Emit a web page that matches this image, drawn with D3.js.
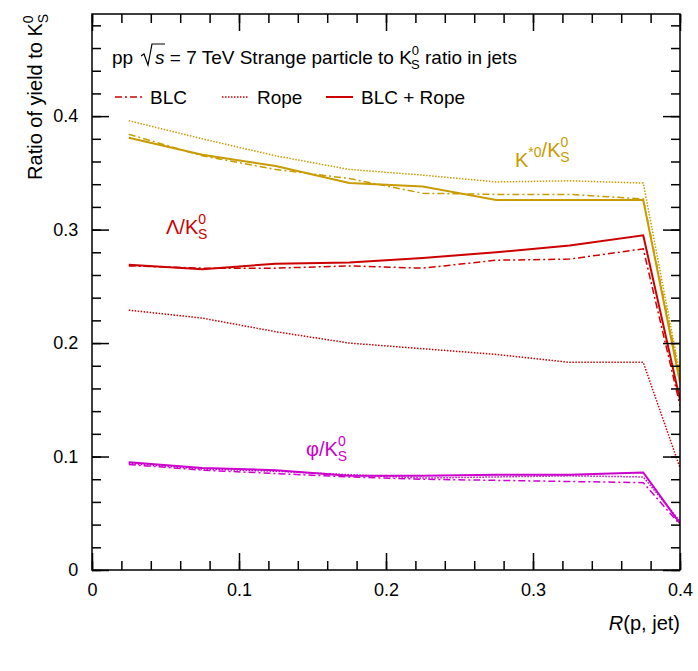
<!DOCTYPE html>
<html><head><meta charset="utf-8">
<script src="https://cdn.jsdelivr.net/npm/d3@7"></script>
<style>body{margin:0;background:#fff}text{font-family:"Liberation Sans",Arial,sans-serif}</style>
</head><body><svg id="c" width="698" height="671"></svg>
<script>
const xs = [0.025, 0.075, 0.125, 0.175, 0.225, 0.275, 0.325, 0.375, 0.4];
const kstarFull = [0.381, 0.366, 0.356, 0.341, 0.338, 0.326, 0.326, 0.326, 0.165];
const kstarBLC  = [0.384, 0.365, 0.353, 0.345, 0.332, 0.331, 0.331, 0.327, 0.170];
const kstarRope = [0.396, 0.380, 0.365, 0.353, 0.348, 0.342, 0.343, 0.341, 0.172];
const lamFull = [0.269, 0.265, 0.270, 0.271, 0.275, 0.280, 0.286, 0.295, 0.150];
const lamBLC  = [0.268, 0.266, 0.266, 0.268, 0.266, 0.273, 0.274, 0.283, 0.145];
const lamRope = [0.229, 0.222, 0.210, 0.200, 0.195, 0.190, 0.183, 0.183, 0.090];
const phiFull = [0.095, 0.090, 0.088, 0.083, 0.083, 0.084, 0.084, 0.086, 0.041];
const phiBLC  = [0.093, 0.088, 0.085, 0.082, 0.080, 0.079, 0.078, 0.077, 0.040];
const phiRope = [0.094, 0.089, 0.087, 0.084, 0.081, 0.082, 0.083, 0.082, 0.043];

const gold = "#c89c00", red = "#cc0000", mag = "#cc00cc";
const dash = { full: null, blc: "7,3,2,3", rope: "1.5,1.5" };
const series = [
  [kstarFull, gold, "full"], [kstarBLC, gold, "blc"], [kstarRope, gold, "rope"],
  [lamFull, red, "full"], [lamBLC, red, "blc"], [lamRope, red, "rope"],
  [phiFull, mag, "full"], [phiBLC, mag, "blc"], [phiRope, mag, "rope"]
];

const svg = d3.select("#c");
const L = 92, R = 680, T = 14, B = 570;
const x = d3.scaleLinear().domain([0, 0.4]).range([L, R]);
const y = d3.scaleLinear().domain([0, 0.49]).range([B, T]);

svg.append("defs").append("clipPath").attr("id", "clip")
  .append("rect").attr("x", L).attr("y", T).attr("width", R - L).attr("height", B - T);

const line = d3.line().x((d, i) => x(xs[i])).y(d => y(d));
series.forEach(([vals, col, st]) => {
  svg.append("path").datum(vals).attr("clip-path", "url(#clip)")
    .attr("fill", "none").attr("stroke", col)
    .attr("stroke-width", st === "full" ? 2 : 1.5)
    .attr("stroke-dasharray", dash[st]).attr("d", line);
});

// frame
svg.append("rect").attr("x", L).attr("y", T).attr("width", R - L).attr("height", B - T)
  .attr("fill", "none").attr("stroke", "#000").attr("stroke-width", 1.5);

// ticks (ROOT-style, inside)
const xAx = d3.axisBottom(x).tickValues(d3.range(0, 0.401, 0.1)).tickSize(-17)
  .tickFormat(d => d === 0 ? "0" : d3.format(".1f")(d));
const gx = svg.append("g").attr("transform", `translate(0,${B})`).call(xAx);
gx.selectAll(".tick text").attr("dy", "1.3em");
svg.append("g").attr("transform", `translate(0,${B})`)
  .call(d3.axisBottom(x).tickValues(d3.range(0, 0.401, 0.02)).tickSize(-9).tickFormat(""));
svg.append("g").attr("transform", `translate(0,${T})`)
  .call(d3.axisTop(x).tickValues(d3.range(0, 0.401, 0.02)).tickSize(-9).tickFormat(""));
svg.append("g").attr("transform", `translate(0,${T})`)
  .call(d3.axisTop(x).tickValues(d3.range(0, 0.401, 0.1)).tickSize(-17).tickFormat(""));

const gy = svg.append("g").attr("transform", `translate(${L},0)`)
  .call(d3.axisLeft(y).tickValues([0, 0.1, 0.2, 0.3, 0.4]).tickSize(-17)
    .tickFormat(d => d === 0 ? "0" : d3.format(".1f")(d)));
gy.selectAll(".tick text").attr("dx", "-0.6em");
svg.append("g").attr("transform", `translate(${L},0)`)
  .call(d3.axisLeft(y).tickValues(d3.range(0, 0.481, 0.02)).tickSize(-9).tickFormat(""));
svg.append("g").attr("transform", `translate(${R},0)`)
  .call(d3.axisRight(y).tickValues(d3.range(0, 0.481, 0.02)).tickSize(-9).tickFormat(""));
svg.append("g").attr("transform", `translate(${R},0)`)
  .call(d3.axisRight(y).tickValues([0, 0.1, 0.2, 0.3, 0.4]).tickSize(-17).tickFormat(""));
svg.selectAll(".domain").remove();
svg.selectAll(".tick line").attr("stroke", "#000").attr("stroke-width", 1.5);
svg.selectAll(".tick text").attr("font-size", 18).attr("fill", "#000")
  .attr("font-family", "Liberation Sans, Arial, sans-serif");

// axis titles
svg.append("text").attr("x", R).attr("y", 630).attr("text-anchor", "end").attr("font-size", 20)
  .html('<tspan font-style="italic">R</tspan>(p, jet)');
svg.append("text").attr("transform", `translate(42,${T}) rotate(-90)`).attr("text-anchor", "end")
  .attr("font-size", 20)
  .html('Ratio of yield to K<tspan font-size="14" dy="-9">0</tspan><tspan font-size="14" dx="-8" dy="15">S</tspan>');

// header
svg.append("text").attr("x", 112).attr("y", 64).attr("font-size", 19).text("pp");
svg.append("text").attr("x", 155).attr("y", 64).attr("font-size", 19)
  .html('<tspan font-style="italic">s</tspan> = 7 TeV  Strange particle to K<tspan font-size="13" dy="-9">0</tspan><tspan font-size="13" dx="-8" dy="14">S</tspan><tspan dy="-5"> ratio in jets</tspan>');
svg.append("path").attr("d", "M141,56 l3,-2 l4,11 l4,-21 h13").attr("fill", "none").attr("stroke", "#000").attr("stroke-width", 1.2);

// legend
const leg = [["BLC", "blc", 115], ["Rope", "rope", 222], ["BLC + Rope", "full", 326]];
leg.forEach(([lab, st, lx]) => {
  svg.append("line").attr("x1", lx).attr("x2", lx + 27).attr("y1", 97).attr("y2", 97)
    .attr("stroke", red).attr("stroke-width", st === "full" ? 2 : 1.5).attr("stroke-dasharray", dash[st]);
  svg.append("text").attr("x", lx + 35).attr("y", 104).attr("font-size", 19).text(lab);
});

// particle labels
function plabel(px, py, col, main) {
  svg.append("text").attr("x", px).attr("y", py).attr("font-size", 20).attr("fill", col)
    .html(main + '/K<tspan font-size="14" dy="-10">0</tspan><tspan font-size="14" dx="-8" dy="15">S</tspan>');
}
plabel(515, 167, gold, 'K<tspan font-size="14" dy="-10">*0</tspan><tspan dy="10"></tspan>');
plabel(166, 234, red, 'Λ');
plabel(306, 456, mag, 'φ');
</script></body></html>
